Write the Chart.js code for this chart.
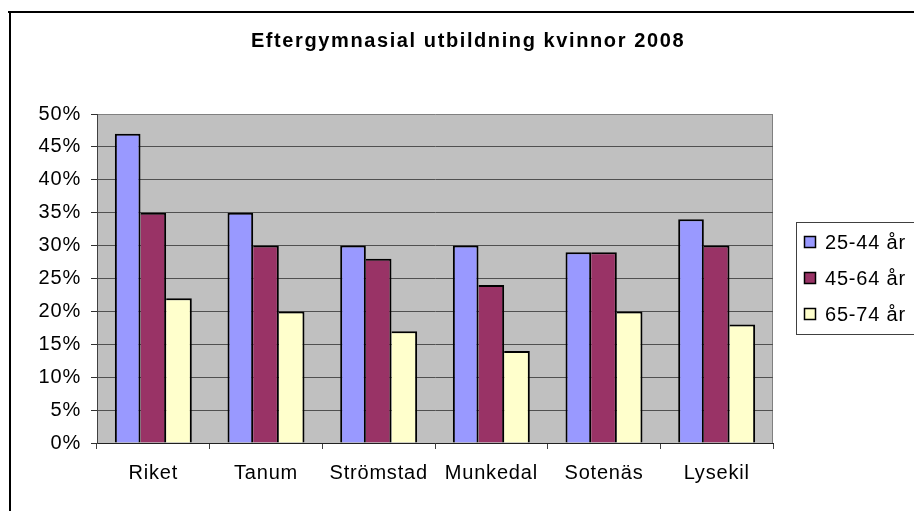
<!DOCTYPE html>
<html>
<head>
<meta charset="utf-8">
<script src="https://cdn.jsdelivr.net/npm/chart.js@4.4.1/dist/chart.umd.min.js"></script>
<style>
  html, body { margin: 0; padding: 0; background: #ffffff; }
  #wrap { width: 914px; height: 511px; }
</style>
</head>
<body>
<div id="wrap"><canvas id="c" width="914" height="511"></canvas></div>
<script>
const TITLE = 'Eftergymnasial utbildning kvinnor 2008';
const CATEGORIES = ['Riket', 'Tanum', 'Strömstad', 'Munkedal', 'Sotenäs', 'Lysekil'];
const SERIES_NAMES = ['25-44 år', '45-64 år', '65-74 år'];
const AGE_25_44 = [47, 35, 30, 30, 29, 34];
const AGE_45_64 = [35, 30, 28, 24, 29, 30];
const AGE_65_74 = [22, 20, 17, 14, 20, 18];
const Y_TICKS = [0, 5, 10, 15, 20, 25, 30, 35, 40, 45, 50];

const FONT = '"Liberation Sans", Arial, sans-serif';
const COLORS = ['#9999FF', '#993366', '#FFFFCC'];

const framePlugin = {
  id: 'frame',
  beforeDraw(chart) {
    const ctx = chart.ctx;
    const a = chart.chartArea;
    ctx.save();
    ctx.fillStyle = '#C0C0C0';
    ctx.fillRect(a.left, a.top, a.right - a.left, a.bottom - a.top);
    ctx.strokeStyle = '#808080';
    ctx.lineWidth = 1;
    ctx.beginPath();
    ctx.moveTo(a.right - 0.5, a.top);
    ctx.lineTo(a.right - 0.5, a.bottom);
    ctx.stroke();
    ctx.restore();
    ctx.letterSpacing = '0.8px';
  },
  afterDraw(chart) {
    const ctx = chart.ctx;
    ctx.save();
    // outer chart frame
    ctx.fillStyle = '#000000';
    ctx.fillRect(8, 11, 906, 2);
    ctx.fillRect(9, 11, 2, 500);
    // title
    ctx.letterSpacing = '1.6px';
    ctx.font = 'bold 20px ' + FONT;
    ctx.textAlign = 'center';
    ctx.textBaseline = 'middle';
    ctx.fillStyle = '#000000';
    ctx.fillText(TITLE, 468, 41);
    // legend
    ctx.letterSpacing = '0.8px';
    const ds = chart.data.datasets;
    const boxX = 796, boxY = 222, step = 36;
    const boxH = step * ds.length + 4;
    ctx.fillStyle = '#ffffff';
    ctx.fillRect(boxX, boxY, 130, boxH);
    ctx.strokeStyle = '#404040';
    ctx.lineWidth = 1;
    ctx.strokeRect(boxX + 0.5, boxY + 0.5, 130, boxH);
    ctx.font = '20px ' + FONT;
    ctx.textAlign = 'left';
    ctx.textBaseline = 'middle';
    ds.forEach((d, i) => {
      const cy = boxY + 20 + i * step;
      ctx.fillStyle = d.backgroundColor;
      ctx.fillRect(804, cy - 6, 12, 12);
      ctx.strokeStyle = '#000000';
      ctx.lineWidth = 1.5;
      ctx.strokeRect(804.5, cy - 5.5, 11, 11);
      ctx.fillStyle = '#000000';
      ctx.fillText(d.label, 825, cy + 1);
    });
    ctx.restore();
  }
};

const mkBorder = (first) => first
  ? { left: 2, right: 2, top: 2, bottom: 0 }
  : { left: 0, right: 2, top: 2, bottom: 0 };

new Chart(document.getElementById('c'), {
  type: 'bar',
  data: {
    labels: CATEGORIES,
    datasets: [AGE_25_44, AGE_45_64, AGE_65_74].map((vals, i) => ({
      label: SERIES_NAMES[i],
      data: vals,
      backgroundColor: COLORS[i],
      borderColor: '#000000',
      borderWidth: mkBorder(i === 0),
      borderSkipped: false,
      barPercentage: 1,
      categoryPercentage: 0.683
    }))
  },
  options: {
    responsive: false,
    animation: false,
    devicePixelRatio: 1,
    layout: { padding: { top: 114, left: 0, right: 141, bottom: 0 } },
    plugins: {
      legend: { display: false },
      title: { display: false },
      tooltip: { enabled: false }
    },
    scales: {
      x: {
        afterFit(s) { s.height = 68; },
        grid: {
          display: true,
          offset: true,
          drawOnChartArea: false,
          drawTicks: true,
          tickLength: 6,
          tickColor: '#404040'
        },
        border: { display: true, color: '#202020', width: 1 },
        ticks: {
          color: '#000000',
          font: { family: FONT, size: 20 },
          padding: 12,
          maxRotation: 0,
          autoSkip: false
        }
      },
      y: {
        min: 0,
        max: 50,
        afterFit(s) { s.width = 97; },
        afterBuildTicks(s) { s.ticks = Y_TICKS.map(v => ({ value: v })); },
        grid: {
          color: (c) => (c.tick && c.tick.value === 50 ? '#808080' : '#505050'),
          tickColor: '#303030',
          tickLength: 6,
          drawTicks: true
        },
        border: { display: true, color: '#404040', width: 1 },
        ticks: {
          color: '#000000',
          font: { family: FONT, size: 20 },
          padding: 10,
          callback: (v) => v + '%'
        }
      }
    }
  },
  plugins: [framePlugin]
});
</script>
</body>
</html>
